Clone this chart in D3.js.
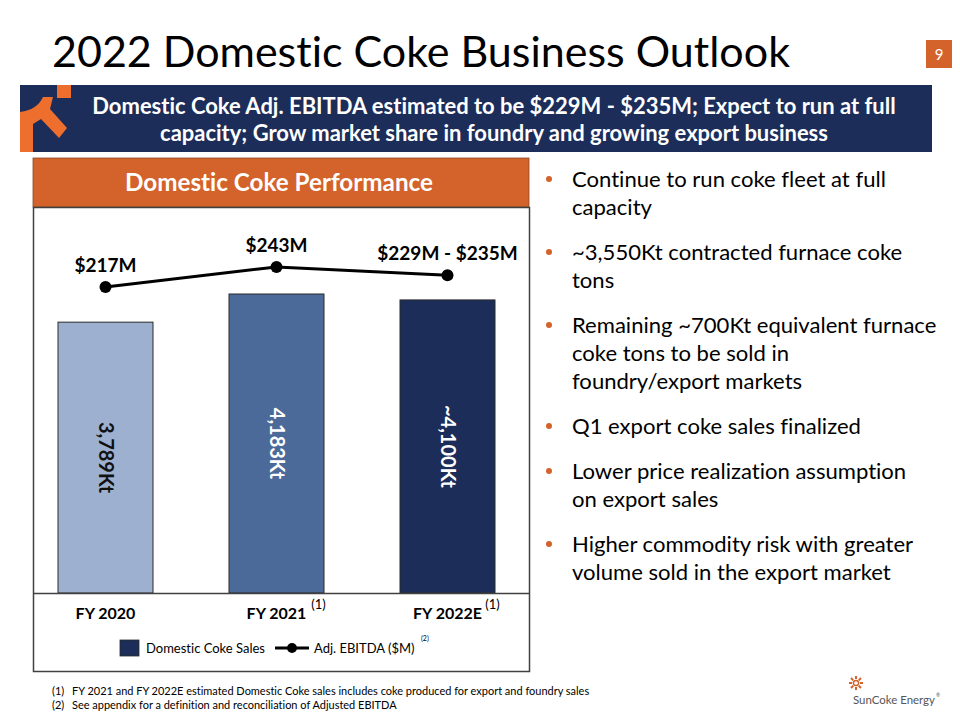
<!DOCTYPE html>
<html>
<head>
<meta charset="utf-8">
<script src="https://cdn.jsdelivr.net/npm/d3@7"></script>
<style>
  html, body { margin: 0; padding: 0; background: #fff; }
  svg { display: block; font-family: Lato, "Open Sans", sans-serif; font-variant-ligatures: none; font-feature-settings: "liga" 0, "dlig" 0; }
</style>
</head>
<body>
<svg id="chart" width="960" height="720"></svg>
<script>
// ---------- DATA ----------
const categories = ["FY 2020", "FY 2021", "FY 2022E"];
const categoryNotes = ["", "(1)", "(1)"];
const salesKt = [3789, 4183, 4100];
const salesLabels = ["3,789Kt", "4,183Kt", "~4,100Kt"];
const ebitdaM = [217, 243, 232];
const ebitdaLabels = ["$217M", "$243M", "$229M - $235M"];
const barColors = ["#9eb0cf", "#4b6a9a", "#1c2d59"];
const barLabelColors = ["#111111", "#ffffff", "#ffffff"];
const seriesNames = ["Domestic Coke Sales", "Adj. EBITDA ($M)"];
const titleText = "2022 Domestic Coke Business Outlook";
const bannerLines = [
  "Domestic Coke Adj. EBITDA estimated to be $229M - $235M; Expect to run at full",
  "capacity; Grow market share in foundry and growing export business"
];
const panelTitle = "Domestic Coke Performance";
const bullets = [
  ["Continue to run coke fleet at full", "capacity"],
  ["~3,550Kt contracted furnace coke", "tons"],
  ["Remaining ~700Kt equivalent furnace", "coke tons to be sold in", "foundry/export markets"],
  ["Q1 export coke sales finalized"],
  ["Lower price realization assumption", "on export sales"],
  ["Higher commodity risk with greater", "volume sold in the export market"]
];
const footnotes = [
  ["(1)", "FY 2021 and FY 2022E estimated Domestic Coke sales includes coke produced for export and foundry sales"],
  ["(2)", "See appendix for a definition and reconciliation of Adjusted EBITDA"]
];

// ---------- HELPERS ----------
const svg = d3.select("#chart");
const NAVY = "#1c2d5a", ORANGE = "#d4622b";
function fitWidth(sel, target) {
  const node = sel.node();
  const fs = parseFloat(sel.attr("font-size"));
  const w = node.getComputedTextLength();
  const nfs = fs * target / w;
  sel.attr("font-size", nfs);
  return nfs;
}

// ---------- TITLE ----------
const title = svg.append("text").attr("x", 52).attr("y", 67)
  .attr("font-size", 44).attr("fill", "#000").text(titleText);
fitWidth(title, 738);

svg.append("rect").attr("x", 926).attr("y", 40).attr("width", 26).attr("height", 28).attr("fill", ORANGE);
svg.append("text").attr("x", 939).attr("y", 60).attr("text-anchor", "middle")
  .attr("font-size", 15).attr("fill", "#fff").text("9");

// ---------- BANNER ----------
svg.append("rect").attr("x", 20).attr("y", 85).attr("width", 912).attr("height", 67).attr("fill", NAVY);
svg.append("rect").attr("x", 57).attr("y", 85).attr("width", 14).attr("height", 13).attr("fill", "#ee6f2d");
svg.append("path").attr("fill", "#ee6f2d")
  .attr("d", "M20,112 Q37,110 43,97 L53,97 L50,109 L67,128 L59,138 L41,119 L33,124 L33,152 L20,152 Z");
const bY = [114, 141], bW = [804, 684];
let bannerFs = null;
bannerLines.forEach((t, i) => {
  const s = svg.append("text").attr("x", 494).attr("y", bY[i]).attr("text-anchor", "middle")
    .attr("font-size", 20).attr("font-weight", "bold").attr("fill", "#fff").text(t);
  if (i === 0) bannerFs = fitWidth(s, bW[0]); else s.attr("font-size", bannerFs);
});

// ---------- PANEL ----------
svg.append("rect").attr("x", 33).attr("y", 158).attr("width", 496).attr("height", 49)
  .attr("fill", ORANGE).attr("stroke", "#8a4a28").attr("stroke-width", 0.8);
const pt = svg.append("text").attr("x", 279).attr("y", 191).attr("text-anchor", "middle")
  .attr("font-size", 24).attr("font-weight", "bold").attr("fill", "#fff").text(panelTitle);
fitWidth(pt, 308);
svg.append("rect").attr("x", 33.5).attr("y", 207.5).attr("width", 496).attr("height", 464)
  .attr("fill", "none").attr("stroke", "#404040").attr("stroke-width", 1.5);

// scales
const x = d3.scaleBand().domain(categories).range([20, 533]).paddingInner(0.8).paddingOuter(0.4);
const yBar = d3.scaleLinear().domain([0, 5400]).range([593, 207]);
const yLine = d3.scaleLinear().domain([100, 300]).range([377, 223]);
const bw = 95;
const cx = c => x(c) + x.bandwidth() / 2;

const g = svg.append("g");
g.selectAll("rect.bar").data(categories).join("rect").attr("class", "bar")
  .attr("x", c => cx(c) - bw / 2).attr("width", bw)
  .attr("y", (c, i) => yBar(salesKt[i])).attr("height", (c, i) => yBar(0) - yBar(salesKt[i]))
  .attr("fill", (c, i) => barColors[i]).attr("stroke", "#2a2a2a").attr("stroke-width", 1);

g.selectAll("text.blab").data(categories).join("text").attr("class", "blab")
  .attr("transform", (c, i) => `translate(${cx(c)},${(yBar(salesKt[i]) + yBar(0)) / 2}) rotate(90)`)
  .attr("text-anchor", "middle").attr("dy", "0.35em")
  .attr("font-size", 20).attr("font-weight", "bold")
  .attr("fill", (c, i) => barLabelColors[i]).text((c, i) => salesLabels[i]);

// axis
const xAxis = d3.axisBottom(x).tickSize(0).tickPadding(12);
const ax = svg.append("g").attr("transform", "translate(0,593)").call(xAxis);
ax.select(".domain").remove();
ax.selectAll("text").attr("font-size", 16).attr("font-weight", "bold").attr("fill", "#000")
  .attr("font-family", "Lato, sans-serif").attr("dy", "0.9em");
svg.append("line").attr("x1", 33).attr("x2", 530).attr("y1", 593.5).attr("y2", 593.5)
  .attr("stroke", "#404040").attr("stroke-width", 1.5);
categories.forEach((c, i) => {
  if (!categoryNotes[i]) return;
  const off = c === "FY 2021" ? 42 : 45;
  svg.append("text").attr("x", cx(c) + off).attr("y", 609).attr("text-anchor", "middle")
    .attr("font-size", 13).attr("fill", "#000").text(categoryNotes[i]);
});

// line
const line = d3.line().x((d, i) => cx(categories[i])).y(d => yLine(d));
g.append("path").datum(ebitdaM).attr("d", line).attr("fill", "none")
  .attr("stroke", "#000").attr("stroke-width", 3);
g.selectAll("circle.pt").data(ebitdaM).join("circle").attr("class", "pt")
  .attr("cx", (d, i) => cx(categories[i])).attr("cy", d => yLine(d)).attr("r", 6).attr("fill", "#000");
g.selectAll("text.plab").data(ebitdaM).join("text").attr("class", "plab")
  .attr("x", (d, i) => cx(categories[i])).attr("y", d => yLine(d) - 15)
  .attr("text-anchor", "middle").attr("font-size", 19).attr("font-weight", "bold").attr("fill", "#000")
  .text((d, i) => ebitdaLabels[i]);

// legend
const lg = svg.append("g");
lg.append("rect").attr("x", 120).attr("y", 640).attr("width", 19).attr("height", 16)
  .attr("fill", barColors[2]).attr("stroke", "#2a2a2a").attr("stroke-width", 0.8);
lg.append("text").attr("x", 146).attr("y", 653).attr("font-size", 13).attr("fill", "#000").text(seriesNames[0]);
lg.append("line").attr("x1", 275).attr("x2", 309).attr("y1", 648).attr("y2", 648).attr("stroke", "#000").attr("stroke-width", 3);
lg.append("circle").attr("cx", 292).attr("cy", 648).attr("r", 5).attr("fill", "#000");
lg.append("text").attr("x", 314).attr("y", 653).attr("font-size", 13).attr("fill", "#000").text(seriesNames[1]);
lg.append("text").attr("x", 421).attr("y", 641).attr("font-size", 7).attr("fill", "#000").text("(2)");

// ---------- BULLETS ----------
let by = 187, bFs = null;
bullets.forEach((para, pi) => {
  svg.append("circle").attr("cx", 549).attr("cy", by - 8).attr("r", 3).attr("fill", ORANGE);
  para.forEach((ln, li) => {
    const t = svg.append("text").attr("x", 572).attr("y", by).attr("font-size", 22).attr("fill", "#000").text(ln);
    if (bFs === null) bFs = fitWidth(t, 314); else t.attr("font-size", bFs);
    by += 28;
  });
  by += 17;
});

// ---------- FOOTNOTES ----------
let fFs = null;
footnotes.forEach((f, i) => {
  const yy = 695 + i * 14;
  svg.append("text").attr("x", 52).attr("y", yy).attr("font-size", 11).attr("fill", "#000").text(f[0]);
  const t = svg.append("text").attr("x", 72).attr("y", yy).attr("font-size", 11).attr("fill", "#000").text(f[1]);
  if (fFs === null) fFs = fitWidth(t, 518); else t.attr("font-size", fFs);
});

// ---------- LOGO ----------
const lgo = svg.append("g").attr("transform", "translate(856,683)");
d3.range(8).forEach(k => {
  const a = k * Math.PI / 4;
  lgo.append("line").attr("x1", Math.cos(a) * 4).attr("y1", Math.sin(a) * 4)
    .attr("x2", Math.cos(a) * 7).attr("y2", Math.sin(a) * 7)
    .attr("stroke", ORANGE).attr("stroke-width", 2);
});
lgo.append("circle").attr("r", 2.6).attr("fill", "none").attr("stroke", ORANGE).attr("stroke-width", 1.5);
const lt = svg.append("text").attr("x", 853).attr("y", 704).attr("font-size", 14).attr("fill", "#555").text("SunCoke Energy");
fitWidth(lt, 82);
svg.append("text").attr("x", 936).attr("y", 697).attr("font-size", 5).attr("fill", "#555").text("®");
</script>
</body>
</html>
